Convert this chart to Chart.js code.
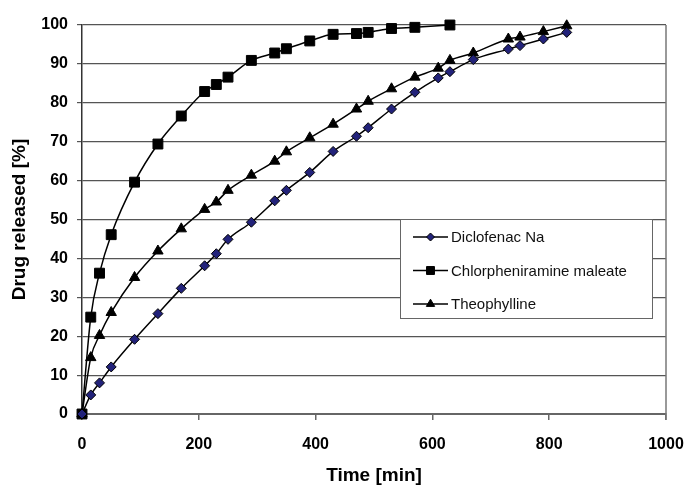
<!DOCTYPE html>
<html>
<head>
<meta charset="utf-8">
<script src="https://cdn.jsdelivr.net/npm/chart.js@4.4.0/dist/chart.umd.min.js"></script>
<style>
  html, body { margin: 0; padding: 0; background: #fff; }
  #wrap { width: 687px; height: 491px; }
</style>
</head>
<body>
<div id="wrap"><canvas id="myChart" width="687" height="491"></canvas></div>
<script>
// sampling times [min]
const times = [0, 15, 30, 50, 90, 130, 170, 210, 230, 250, 290, 330, 350, 390, 430, 470, 490, 530, 570, 610, 630, 670, 730, 750, 790, 830];
const chlorTimes = [0, 15, 30, 50, 90, 130, 170, 210, 230, 250, 290, 330, 350, 390, 430, 470, 490, 530, 570, 630];

// drug released [%]
const diclofenac = [0, 4.9, 8.0, 12.1, 19.2, 25.8, 32.3, 38.1, 41.2, 44.9, 49.3, 54.8, 57.5, 62.1, 67.5, 71.4, 73.6, 78.4, 82.7, 86.4, 88.0, 91.1, 93.8, 94.7, 96.4, 98.1];
const chlorpheniramine = [0, 24.9, 36.2, 46.1, 59.6, 69.4, 76.6, 82.9, 84.7, 86.6, 90.9, 92.8, 93.9, 95.9, 97.6, 97.8, 98.1, 99.1, 99.4, 100];
const theophylline = [0, 14.5, 20.2, 26.1, 35.1, 41.9, 47.6, 52.6, 54.5, 57.5, 61.4, 65.0, 67.4, 71.0, 74.5, 78.4, 80.4, 83.6, 86.6, 88.9, 90.9, 92.8, 96.4, 96.9, 98.3, 99.8];

const seriesNames = ['Diclofenac Na', 'Chlorpheniramine maleate', 'Theophylline'];
const xTicks = [0, 200, 400, 600, 800, 1000];

const ctx = document.getElementById('myChart');

function toPoints(xs, ys) {
  return xs.map((x, i) => ({ x: x, y: ys[i] }));
}

// legend box drawn inside the plot, like the original
const boxLegend = {
  id: 'boxLegend',
  afterDraw(chart) {
    const c = chart.ctx;
    const a = chart.chartArea;
    const left = a.left + 318, top = a.top + 194, w = 252, h = 99;
    c.save();
    c.fillStyle = '#fff';
    c.fillRect(left, top, w, h);
    c.strokeStyle = '#666';
    c.lineWidth = 1;
    c.strokeRect(left + 0.5, top + 0.5, w, h);
    c.font = '15px "Liberation Sans", Arial, sans-serif';
    c.textBaseline = 'middle';
    chart.data.datasets.forEach((ds, i) => {
      const y = top + 18 + i * 33.5;
      c.strokeStyle = '#000';
      c.lineWidth = 1.5;
      c.beginPath();
      c.moveTo(left + 13, y);
      c.lineTo(left + 48, y);
      c.stroke();
      c.fillStyle = ds.pointBackgroundColor;
      c.strokeStyle = ds.pointBorderColor;
      c.lineWidth = 1;
      Chart.helpers.drawPoint(c, {
        pointStyle: ds.pointStyle,
        radius: ds.pointRadius * 0.8,
        rotation: 0,
        borderWidth: 1
      }, left + 30.5, y);
      c.fillStyle = '#111';
      c.fillText(ds.label, left + 51, y + 1);
    });
    c.restore();
  },
  beforeDatasetsDraw(chart) {
    const c = chart.ctx;
    const a = chart.chartArea;
    c.save();
    c.strokeStyle = '#777';
    c.lineWidth = 1.5;
    c.beginPath();
    c.moveTo(a.right, a.top);
    c.lineTo(a.right, a.bottom + 6);
    c.stroke();
    c.restore();
  }
};

new Chart(ctx, {
  type: 'line',
  data: {
    datasets: [{
      label: seriesNames[0],
      data: toPoints(times, diclofenac),
      borderColor: '#000',
      borderWidth: 1.5,
      pointStyle: 'rectRot',
      pointRadius: 5,
      pointBackgroundColor: '#22227a',
      pointBorderColor: '#000',
      pointBorderWidth: 1
    }, {
      label: seriesNames[1],
      data: toPoints(chlorTimes, chlorpheniramine),
      borderColor: '#000',
      borderWidth: 1.5,
      pointStyle: 'rect',
      pointRadius: 7,
      pointBackgroundColor: '#000',
      pointBorderColor: '#000',
      pointBorderWidth: 1
    }, {
      label: seriesNames[2],
      data: toPoints(times, theophylline),
      borderColor: '#000',
      borderWidth: 1.5,
      pointStyle: 'triangle',
      pointRadius: 6,
      pointBackgroundColor: '#000',
      pointBorderColor: '#000',
      pointBorderWidth: 1
    }]
  },
  options: {
    responsive: false,
    animation: false,
    clip: false,
    cubicInterpolationMode: 'monotone',
    layout: { padding: { left: 0, top: 25, right: 21, bottom: 0 } },
    plugins: { legend: { display: false }, tooltip: { enabled: false } },
    scales: {
      x: {
        type: 'linear',
        min: 0,
        max: 1000,
        afterFit: s => { s.height = 77; s.paddingLeft = 0; s.paddingRight = 0; },
        afterBuildTicks: s => { s.ticks = xTicks.map(v => ({ value: v })); },
        grid: { drawOnChartArea: false, drawTicks: true, tickLength: 6, color: '#666', lineWidth: 1.5 },
        border: { color: '#666', width: 2 },
        ticks: {
          padding: 15,
          color: '#000',
          callback: v => String(v),
          font: { family: '"Liberation Sans", Arial, sans-serif', size: 16, weight: 'bold' }
        },
        title: {
          display: true,
          text: 'Time [min]',
          color: '#000',
          padding: { top: 0, bottom: 4 },
          font: { family: '"Liberation Sans", Arial, sans-serif', size: 19, weight: 'bold' }
        }
      },
      y: {
        min: 0,
        max: 100,
        afterFit: s => { s.width = 82; },
        grid: { color: '#555', lineWidth: 1.2, tickLength: 5 },
        border: { color: '#333', width: 1.5 },
        ticks: {
          stepSize: 10,
          padding: 9,
          color: '#000',
          font: { family: '"Liberation Sans", Arial, sans-serif', size: 16, weight: 'bold' }
        },
        title: {
          display: true,
          text: 'Drug released [%]',
          color: '#000',
          padding: { top: 8, bottom: 0 },
          font: { family: '"Liberation Sans", Arial, sans-serif', size: 19, weight: 'bold' }
        }
      }
    }
  },
  plugins: [boxLegend]
});
</script>
</body>
</html>
